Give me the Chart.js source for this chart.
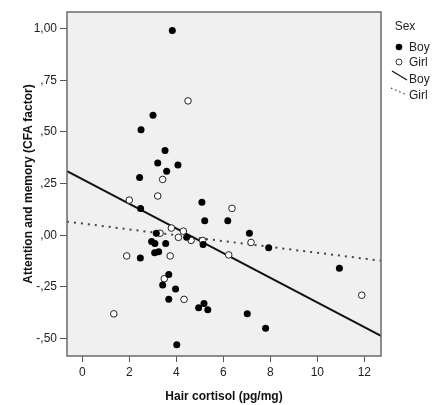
<!DOCTYPE html>
<html>
<head>
<meta charset="utf-8">
<script src="https://cdn.jsdelivr.net/npm/chart.js@4.4.0/dist/chart.umd.min.js"></script>
<style>
  html, body { margin: 0; padding: 0; background: #fff; }
  #wrap { width: 438px; height: 405px; }
</style>
</head>
<body>
<div id="wrap"><canvas id="scatter" width="438" height="405"></canvas></div>
<script>
// Boys (filled) and girls (open)
const boyX = [3.83, 3.01, 2.50, 3.52, 3.21, 4.07, 3.59, 2.44, 2.48, 5.09, 5.21, 6.19, 7.11, 3.15, 4.44, 5.14, 2.95, 3.09, 3.55, 3.08, 3.25, 2.47, 3.68, 3.42, 3.97, 3.68, 5.18, 4.95, 5.34, 7.02, 4.02, 7.93, 10.94, 7.80];
const boyY = [0.99, 0.58, 0.51, 0.41, 0.35, 0.34, 0.31, 0.28, 0.13, 0.16, 0.07, 0.07, 0.01, 0.01, -0.01, -0.045, -0.03, -0.04, -0.04, -0.085, -0.08, -0.11, -0.19, -0.24, -0.26, -0.31, -0.33, -0.35, -0.36, -0.38, -0.53, -0.06, -0.16, -0.45];
const girlX = [4.50, 3.42, 3.21, 2.00, 6.37, 7.18, 3.79, 4.30, 3.31, 4.09, 4.63, 5.12, 1.89, 3.74, 6.23, 3.49, 4.33, 1.34, 11.89];
const girlY = [0.65, 0.27, 0.19, 0.17, 0.13, -0.035, 0.035, 0.02, 0.01, -0.01, -0.025, -0.025, -0.10, -0.10, -0.095, -0.21, -0.31, -0.38, -0.29];

// fit lines: [intercept, slope]
const boyFit = [0.272, -0.0597];
const girlFit = [0.0568, -0.01415];

const xTicks = [0, 2, 4, 6, 8, 10, 12];
const yTicks = [-0.5, -0.25, 0, 0.25, 0.5, 0.75, 1.0];
const yTickLabels = ['-,50', '-,25', ',00', ',25', ',50', ',75', '1,00'];

const xMin = -0.65, xMax = 12.71;
const yMin = -0.584, yMax = 1.08;

const FONT = 'Liberation Sans, Arial, sans-serif';

function toPoints(xs, ys) {
    return xs.map((x, i) => ({ x: x, y: ys[i] }));
}
function fitLine(fit) {
    return [xMin, xMax].map(x => ({ x: x, y: fit[0] + fit[1] * x }));
}

// grey plot background + frame
const plotFrame = {
    id: 'plotFrame',
    beforeDraw(chart) {
        const a = chart.chartArea, c = chart.ctx;
        c.save();
        c.fillStyle = '#f0f0f0';
        c.fillRect(a.left, a.top, a.right - a.left, a.bottom - a.top);
        c.restore();
    },
    afterDraw(chart) {
        const a = chart.chartArea, c = chart.ctx;
        c.save();
        c.strokeStyle = '#6a6a6a';
        c.lineWidth = 1.5;
        c.strokeRect(a.left, a.top, a.right - a.left, a.bottom - a.top);
        c.restore();
    }
};

// legend on the right, SPSS style
const sideLegend = {
    id: 'sideLegend',
    afterDraw(chart) {
        const c = chart.ctx;
        c.save();
        c.fillStyle = '#222';
        c.font = '12px ' + FONT;
        c.textBaseline = 'middle';
        c.textAlign = 'center';
        c.fillText('Sex', 405, 27);
        c.textAlign = 'left';

        c.beginPath();
        c.arc(399, 47, 3.3, 0, Math.PI * 2);
        c.fillStyle = '#000';
        c.fill();
        c.fillStyle = '#222';
        c.fillText('Boy', 409, 48);

        c.beginPath();
        c.arc(399, 62, 3, 0, Math.PI * 2);
        c.strokeStyle = '#333';
        c.lineWidth = 1;
        c.stroke();
        c.fillText('Girl', 409, 63);

        c.beginPath();
        c.moveTo(392, 71);
        c.lineTo(407, 80);
        c.strokeStyle = '#111';
        c.lineWidth = 1.2;
        c.stroke();
        c.fillText('Boy', 409, 80);

        c.beginPath();
        c.setLineDash([1.5, 3]);
        c.moveTo(391, 88);
        c.lineTo(407, 95);
        c.strokeStyle = '#444';
        c.stroke();
        c.setLineDash([]);
        c.fillText('Girl', 409, 96);
        c.restore();
    }
};

const ctx = document.getElementById('scatter').getContext('2d');

new Chart(ctx, {
    type: 'scatter',
    data: {
        datasets: [
            {
                label: 'Boy',
                data: toPoints(boyX, boyY),
                pointRadius: 3.5,
                pointBackgroundColor: '#000',
                pointBorderColor: '#000',
                pointBorderWidth: 0
            },
            {
                label: 'Girl',
                data: toPoints(girlX, girlY),
                pointRadius: 3.3,
                pointBackgroundColor: '#fff',
                pointBorderColor: '#222',
                pointBorderWidth: 1
            },
            {
                label: 'Boy fit',
                data: fitLine(boyFit),
                showLine: true,
                pointRadius: 0,
                borderColor: '#111',
                borderWidth: 2
            },
            {
                label: 'Girl fit',
                data: fitLine(girlFit),
                showLine: true,
                pointRadius: 0,
                borderColor: '#444',
                borderWidth: 2,
                borderDash: [2, 5]
            }
        ]
    },
    options: {
        responsive: false,
        animation: false,
        layout: { padding: { top: 12, right: 57, left: 0, bottom: 0 } },
        scales: {
            x: {
                type: 'linear',
                min: xMin,
                max: xMax,
                afterFit: s => { s.height = 49; },
                afterBuildTicks: s => { s.ticks = xTicks.map(v => ({ value: v })); },
                grid: { drawOnChartArea: false, drawTicks: true, tickLength: 6, color: '#555' },
                border: { display: false },
                ticks: {
                    color: '#222',
                    padding: 3,
                    maxRotation: 0,
                    font: { family: FONT, size: 12 },
                    callback: v => String(v)
                },
                title: {
                    display: true,
                    text: 'Hair cortisol (pg/mg)',
                    color: '#111',
                    font: { family: FONT, size: 12, weight: 'bold' },
                    padding: { top: 0, bottom: 1 }
                }
            },
            y: {
                type: 'linear',
                min: yMin,
                max: yMax,
                afterFit: s => { s.width = 67; },
                afterBuildTicks: s => { s.ticks = yTicks.map(v => ({ value: v })); },
                grid: { drawOnChartArea: false, drawTicks: true, tickLength: 7, color: '#555' },
                border: { display: false },
                ticks: {
                    color: '#222',
                    padding: 3,
                    font: { family: FONT, size: 12 },
                    callback: v => {
                        const i = yTicks.findIndex(t => Math.abs(t - v) < 1e-6);
                        return i >= 0 ? yTickLabels[i] : '';
                    }
                },
                title: {
                    display: true,
                    text: 'Attention and memory (CFA factor)',
                    color: '#111',
                    font: { family: FONT, size: 12, weight: 'bold' },
                    padding: { top: 21, bottom: 0 }
                }
            }
        },
        plugins: {
            legend: { display: false },
            tooltip: { enabled: false }
        }
    },
    plugins: [plotFrame, sideLegend]
});
</script>
</body>
</html>
